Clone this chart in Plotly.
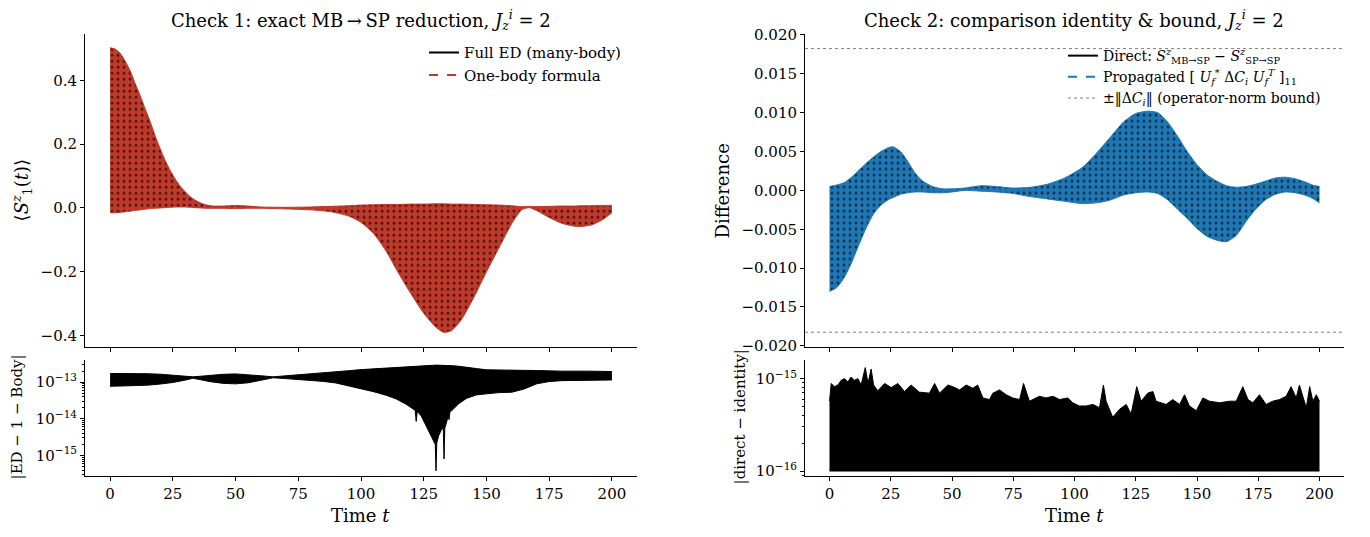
import plotly.graph_objects as go

# ---------------- data ----------------
# Check 1: <S_1^z(t)> envelope of the fast oscillation (upper / lower edge)
t_sz = [0, 2, 4, 6, 8, 10, 12, 14, 16, 18, 20, 22, 24, 26, 28, 30, 32, 34, 36, 38,
        41, 45, 50, 55, 60, 70, 80, 88, 95, 100, 105, 110, 115, 120, 125, 130, 133,
        136, 140, 145, 150, 155, 160, 164, 167, 170, 175, 180, 185, 188, 192, 196, 200]
sz_upper = [0.502, 0.498, 0.485, 0.460, 0.430, 0.390, 0.352, 0.310, 0.270, 0.225,
            0.185, 0.148, 0.117, 0.090, 0.068, 0.050, 0.035, 0.024, 0.016, 0.010,
            0.006, 0.006, 0.008, 0.006, 0.003, 0.002, 0.003, 0.005, 0.007, 0.009,
            0.010, 0.011, 0.011, 0.012, 0.012, 0.013, 0.013, 0.012, 0.012, 0.011,
            0.010, 0.009, 0.007, 0.004, 0.005, 0.004, 0.005, 0.006, 0.006, 0.007,
            0.007, 0.008, 0.008]
sz_lower = [-0.015, -0.015, -0.014, -0.012, -0.010, -0.008, -0.006, -0.004, -0.002, -0.001,
            0.000, 0.001, 0.002, 0.003, 0.003, 0.003, 0.002, 0.001, 0.000, -0.001,
            -0.001, -0.001, -0.002, -0.001, -0.001, -0.003, -0.006, -0.012, -0.025, -0.045,
            -0.080, -0.135, -0.205, -0.270, -0.330, -0.375, -0.390, -0.385, -0.350, -0.280,
            -0.200, -0.125, -0.050, -0.006, 0.001, -0.008, -0.030, -0.048, -0.057, -0.058,
            -0.053, -0.038, -0.015]

# Check 1 (lower panel): |ED - 1-Body| envelope
t_err = [0, 5, 10, 15, 20, 25, 30, 33, 36, 40, 45, 50, 55, 60, 65, 70, 75, 80, 85, 90,
         95, 100, 105, 110, 114, 118, 120, 121.6, 122.0, 122.4, 124, 126, 127.5, 129,
         129.6, 129.9, 130.2, 131, 132, 132.8, 133.1, 133.4, 134, 134.8, 135.1, 135.4,
         137, 139, 142, 146, 150, 155, 160, 165, 170, 175, 180, 190, 200]
err_upper = [1.73e-13, 1.74e-13, 1.73e-13, 1.70e-13, 1.65e-13, 1.57e-13, 1.46e-13, 1.40e-13,
             1.45e-13, 1.55e-13, 1.64e-13, 1.68e-13, 1.62e-13, 1.50e-13, 1.40e-13, 1.48e-13,
             1.58e-13, 1.68e-13, 1.78e-13, 1.90e-13, 2.05e-13, 2.20e-13, 2.32e-13, 2.45e-13,
             2.55e-13, 2.68e-13, 2.75e-13, 2.78e-13, 2.78e-13, 2.79e-13, 2.83e-13, 2.87e-13,
             2.90e-13, 2.92e-13, 2.92e-13, 2.92e-13, 2.92e-13, 2.92e-13, 2.92e-13, 2.91e-13,
             2.91e-13, 2.91e-13, 2.90e-13, 2.88e-13, 2.88e-13, 2.87e-13, 2.80e-13, 2.72e-13,
             2.60e-13, 2.35e-13, 2.18e-13, 2.12e-13, 2.10e-13, 2.10e-13, 2.08e-13, 2.02e-13,
             2.00e-13, 2.00e-13, 1.95e-13]
err_lower = [7.7e-14, 7.8e-14, 8.0e-14, 8.3e-14, 8.9e-14, 9.8e-14, 1.14e-13, 1.28e-13,
             1.17e-13, 1.03e-13, 9.3e-14, 9.0e-14, 9.6e-14, 1.10e-13, 1.32e-13, 1.25e-13,
             1.18e-13, 1.12e-13, 1.05e-13, 9.5e-14, 8.0e-14, 6.5e-14, 5.5e-14, 4.4e-14,
             3.5e-14, 2.5e-14, 2.0e-14, 1.7e-14, 8.5e-15, 1.6e-14, 1.2e-14, 6.5e-15,
             3.8e-15, 2.4e-15, 2.0e-15, 3.8e-16, 2.2e-15, 3.5e-15, 5.0e-15, 5.5e-15,
             8.0e-16, 5.5e-15, 7.5e-15, 1.2e-14, 9.5e-15, 1.5e-14, 1.9e-14, 2.6e-14,
             3.6e-14, 4.5e-14, 4.8e-14, 5.2e-14, 5.3e-14, 6.5e-14, 9.0e-14, 1.04e-13,
             1.10e-13, 1.15e-13, 1.15e-13]

# Check 2: difference envelope
t_diff = [0, 3, 6, 9, 12, 15, 18, 21, 24, 26, 29, 32, 35, 38, 42, 46, 50, 55, 62, 68,
          75, 82, 89, 96, 103, 109, 114, 120, 125, 130, 134, 138, 142, 146, 150, 154,
          158, 162, 166, 170, 174, 178, 182, 186, 190, 194, 197, 200]
diff_upper = [0.0005, 0.0007, 0.0010, 0.0017, 0.0026, 0.0035, 0.0043, 0.0050, 0.0055, 0.0056,
              0.0050, 0.0037, 0.0022, 0.0012, 0.0005, 0.0002, 0.0002, 0.0003, 0.0006, 0.0005,
              0.0003, 0.0004, 0.0008, 0.0016, 0.0029, 0.0048, 0.0066, 0.0088, 0.0099, 0.0102,
              0.0100, 0.0088, 0.0070, 0.0050, 0.0033, 0.0020, 0.0012, 0.0006, 0.0004, 0.0005,
              0.0008, 0.0012, 0.0016, 0.0017, 0.0015, 0.0011, 0.0007, 0.0005]
diff_lower = [-0.0130, -0.0125, -0.0112, -0.0093, -0.0070, -0.0048, -0.0030, -0.0019, -0.0012, -0.0009,
              -0.0005, -0.0003, -0.0002, -0.0002, -0.0003, -0.0003, -0.0002, 0.0000, -0.0001, -0.0002,
              -0.0004, -0.0008, -0.0011, -0.0014, -0.0017, -0.0016, -0.0013, -0.0006, -0.0003, -0.0002,
              -0.0004, -0.0012, -0.0024, -0.0036, -0.0049, -0.0059, -0.0064, -0.0066, -0.0058, -0.0040,
              -0.0024, -0.0012, -0.0005, -0.0002, -0.0003, -0.0006, -0.0010, -0.0016]
bound = 0.01825

# Check 2 (lower panel): |direct - identity| upper envelope above the 1e-16 floor
t_id = [0, 0.7, 2.0, 3.4, 4.8, 6.1, 7.5, 8.8, 10.2, 11.6, 12.9, 14.6, 15.7, 17.0, 18.0,
        19.7, 22.5, 25.2, 27.9, 30.6, 33.3, 35.4, 36.7, 40.8, 42.9, 44.9, 48.3, 50.3,
        53.1, 55.8, 58.5, 60.5, 62.6, 65.3, 66.7, 69.4, 72.1, 74.8, 77.6, 79.2, 81.6,
        85.7, 88.4, 91.2, 93.9, 97.3, 99.3, 102.0, 104.8, 107.5, 110.2, 111.8, 112.9,
        115.6, 118.4, 121.1, 123.1, 125.4, 127.2, 129.9, 132.0, 133.3, 137.4, 140.1,
        142.9, 144.9, 146.9, 149.7, 152.4, 155.1, 159.2, 163.3, 166.0, 168.7, 170.8,
        172.8, 175.5, 178.2, 180.9, 183.7, 186.4, 188.4, 190.5, 191.8, 194.6, 196.0,
        197.3, 198.7, 200.0]
id_upper = [5.7e-16, 8.87e-16, 8.19e-16, 8.53e-16, 9.62e-16, 1.0e-15, 9.23e-16, 1.04e-15,
            9.62e-16, 1.0e-15, 8.53e-16, 1.32e-15, 8.87e-16, 1.27e-15, 8.53e-16, 7.38e-16,
            8.87e-16, 8.0e-16, 8.87e-16, 7.26e-16, 8.53e-16, 7.55e-16, 7.14e-16, 6.97e-16,
            8.87e-16, 6.97e-16, 8.53e-16, 8.19e-16, 7.55e-16, 8.53e-16, 7.87e-16, 8.53e-16,
            6.18e-16, 5.94e-16, 6.97e-16, 7.55e-16, 6.70e-16, 6.18e-16, 5.94e-16, 8.87e-16,
            5.70e-16, 6.44e-16, 6.18e-16, 6.44e-16, 5.94e-16, 6.18e-16, 5.48e-16, 5.06e-16,
            5.06e-16, 5.26e-16, 4.85e-16, 8.53e-16, 5.70e-16, 3.82e-16, 4.67e-16, 5.26e-16,
            4.14e-16, 8.19e-16, 5.70e-16, 6.97e-16, 7.26e-16, 5.70e-16, 5.26e-16, 5.94e-16,
            5.26e-16, 6.70e-16, 5.06e-16, 4.49e-16, 6.18e-16, 5.70e-16, 5.48e-16, 5.70e-16,
            5.70e-16, 8.19e-16, 5.94e-16, 5.48e-16, 6.70e-16, 5.26e-16, 5.70e-16, 5.94e-16,
            6.44e-16, 8.19e-16, 6.18e-16, 8.53e-16, 4.85e-16, 8.19e-16, 5.70e-16, 6.70e-16,
            5.70e-16]
id_floor = 1e-16

x_ticks = [0, 25, 50, 75, 100, 125, 150, 175, 200]
sz_ticks = [-0.4, -0.2, 0.0, 0.2, 0.4]
sz_ticktext = ["\u22120.4", "\u22120.2", "0.0", "0.2", "0.4"]
diff_ticks = [-0.02, -0.015, -0.01, -0.005, 0.0, 0.005, 0.01, 0.015, 0.02]
diff_ticktext = ["\u22120.020", "\u22120.015", "\u22120.010", "\u22120.005", "0.000",
                 "0.005", "0.010", "0.015", "0.020"]
err_ticks = [1e-15, 1e-14, 1e-13]
err_ticktext = ["10<sup>\u221215</sup>", "10<sup>\u221214</sup>", "10<sup>\u221213</sup>"]
id_ticks = [1e-16, 1e-15]
id_ticktext = ["10<sup>\u221216</sup>", "10<sup>\u221215</sup>"]

# ---------------- styling ----------------
W, H = 1370, 537
FONT = "DejaVu Serif"
RED = "#c0392b"
BLUE = "#1f77b4"


def fx(p):
    return p / W


def fy(p):
    return 1 - p / H


fig = go.Figure()

# Left top: band
fig.add_trace(go.Scatter(x=t_sz, y=sz_upper, mode="lines", line=dict(color=RED, width=1, shape="spline", smoothing=0.6),
                         xaxis="x", yaxis="y", showlegend=False, hoverinfo="skip"))
fig.add_trace(go.Scatter(x=t_sz, y=sz_lower, mode="lines", line=dict(color=RED, width=1, shape="spline", smoothing=0.6),
                         fill="tonexty", fillcolor=RED,
                         fillpattern=dict(shape=".", bgcolor=RED, fgcolor="black", fgopacity=0.6, size=6, solidity=0.2),
                         xaxis="x", yaxis="y", showlegend=False, hoverinfo="skip"))
fig.add_trace(go.Scatter(x=[None], y=[None], mode="lines", line=dict(color="black", width=2),
                         name="Full ED (many-body)", xaxis="x", yaxis="y", legend="legend", legendgroup="a"))
fig.add_trace(go.Scatter(x=[None], y=[None], mode="lines", line=dict(color=RED, width=2, dash="dash"),
                         name="One-body formula", xaxis="x", yaxis="y", legend="legend", legendgroup="b"))

# Left bottom
fig.add_trace(go.Scatter(x=t_err, y=err_upper, mode="lines", line=dict(color="black", width=1),
                         xaxis="x3", yaxis="y3", showlegend=False, hoverinfo="skip"))
fig.add_trace(go.Scatter(x=t_err, y=err_lower, mode="lines", line=dict(color="black", width=1),
                         fill="tonexty", fillcolor="black",
                         xaxis="x3", yaxis="y3", showlegend=False, hoverinfo="skip"))

# Right top
fig.add_trace(go.Scatter(x=t_diff, y=diff_upper, mode="lines", line=dict(color=BLUE, width=1, shape="spline", smoothing=0.6),
                         xaxis="x2", yaxis="y2", showlegend=False, hoverinfo="skip"))
fig.add_trace(go.Scatter(x=t_diff, y=diff_lower, mode="lines", line=dict(color=BLUE, width=1, shape="spline", smoothing=0.6),
                         fill="tonexty", fillcolor=BLUE,
                         fillpattern=dict(shape=".", bgcolor=BLUE, fgcolor="black", fgopacity=0.6, size=6, solidity=0.18),
                         xaxis="x2", yaxis="y2", showlegend=False, hoverinfo="skip"))
fig.add_trace(go.Scatter(x=[None], y=[None], mode="lines", line=dict(color="black", width=2),
                         name="Direct: <i>S</i><sup><i>z</i></sup><sub>MB\u2192SP</sub> \u2212 <i>S</i><sup><i>z</i></sup><sub>SP\u2192SP</sub>",
                         xaxis="x2", yaxis="y2", legend="legend2", legendgroup="c"))
fig.add_trace(go.Scatter(x=[None], y=[None], mode="lines", line=dict(color=BLUE, width=2, dash="dash"),
                         name="Propagated [ <i>U</i><sub><i>f</i></sub><sup>*</sup> \u0394<i>C</i><sub><i>i</i></sub> <i>U</i><sub><i>f</i></sub><sup><i>T</i></sup> ]<sub>11</sub>",
                         xaxis="x2", yaxis="y2", legend="legend2", legendgroup="d"))
fig.add_trace(go.Scatter(x=[None], y=[None], mode="lines", line=dict(color="gray", width=1, dash="dot"),
                         name="\u00b1\u2016\u0394<i>C</i><sub><i>i</i></sub>\u2016 (operator-norm bound)",
                         xaxis="x2", yaxis="y2", legend="legend2", legendgroup="e"))

# Right bottom
fig.add_trace(go.Scatter(x=[t_id[0], t_id[-1]], y=[id_floor, id_floor], mode="lines",
                         line=dict(color="black", width=1),
                         xaxis="x4", yaxis="y4", showlegend=False, hoverinfo="skip"))
fig.add_trace(go.Scatter(x=t_id, y=id_upper, mode="lines", line=dict(color="black", width=1),
                         fill="tonexty", fillcolor="black",
                         xaxis="x4", yaxis="y4", showlegend=False, hoverinfo="skip"))

for sgn in (1, -1):
    fig.add_shape(type="line", xref="x2 domain", x0=0, x1=1, yref="y2", y0=sgn * bound, y1=sgn * bound,
                  line=dict(color="#7f7f7f", width=1, dash="dot"))

tickfont = dict(family=FONT, size=15, color="black")
common_x = dict(range=[-10, 210], tickvals=x_ticks, ticks="outside", ticklen=4, tickwidth=1, tickcolor="black",
                showline=True, linecolor="black", linewidth=1, showgrid=False, zeroline=False, tickfont=tickfont)
common_y = dict(ticks="outside", ticklen=4, tickwidth=1, tickcolor="black",
                showline=True, linecolor="black", linewidth=1, showgrid=False, zeroline=False, tickfont=tickfont)

LX = [fx(85), fx(637)]
RX = [fx(805), fx(1344)]
TY = [fy(349), fy(27)]
BY = [fy(482), fy(363)]


def minor_vals(d0, d1):
    return [k * 10.0 ** d for d in range(d0, d1) for k in range(2, 10)]


fig.update_layout(
    width=W, height=H,
    margin=dict(l=0, r=0, t=0, b=0),
    paper_bgcolor="white", plot_bgcolor="white",
    font=dict(family=FONT, size=15, color="black"),
    xaxis=dict(domain=LX, anchor="y", showticklabels=False, **common_x),
    yaxis=dict(domain=TY, anchor="x", range=[-0.4345, 0.5445], tickvals=sz_ticks, ticktext=sz_ticktext, **common_y),
    xaxis3=dict(domain=LX, anchor="y3", **common_x),
    yaxis3=dict(domain=BY, anchor="x3", type="log", range=[-15.55, -12.40], tickvals=err_ticks, ticktext=err_ticktext,
                minor=dict(ticks="outside", ticklen=2, tickcolor="black", tickvals=minor_vals(-16, -12)), **common_y),
    xaxis2=dict(domain=RX, anchor="y2", showticklabels=False, **common_x),
    yaxis2=dict(domain=TY, anchor="x2", range=[-0.0201, 0.0201], tickvals=diff_ticks, ticktext=diff_ticktext, **common_y),
    xaxis4=dict(domain=RX, anchor="y4", **common_x),
    yaxis4=dict(domain=BY, anchor="x4", type="log", range=[-16.05, -14.80], tickvals=id_ticks, ticktext=id_ticktext,
                minor=dict(ticks="outside", ticklen=2, tickcolor="black", tickvals=minor_vals(-17, -14)), **common_y),
    legend=dict(x=fx(424), y=fy(29), xanchor="left", yanchor="top", bgcolor="rgba(0,0,0,0)", traceorder="normal",
                tracegroupgap=2, font=dict(family=FONT, size=15, color="black"), itemwidth=30),
    legend2=dict(x=fx(1063), y=fy(33), xanchor="left", yanchor="top", bgcolor="rgba(0,0,0,0)", traceorder="normal",
                 tracegroupgap=8, font=dict(family=FONT, size=14, color="black"), itemwidth=30),
)

annos = [
    dict(text="Check 1: exact MB\u2009\u2192\u2009SP reduction, <i>J</i><sub><i>z</i></sub><sup><i>i</i></sup> = 2",
         x=fx(361), y=fy(12), size=18, angle=0),
    dict(text="Check 2: comparison identity &amp; bound, <i>J</i><sub><i>z</i></sub><sup><i>i</i></sup> = 2",
         x=fx(1074), y=fy(12), size=18, angle=0),
    dict(text="\u27e8<i>S</i><sup><i>z</i></sup><sub>1</sub>(<i>t</i>)\u27e9", x=fx(22), y=fy(188), size=18, angle=-90),
    dict(text="|ED \u2212 1 \u2212 Body|", x=fx(17), y=fy(422), size=15, angle=-90),
    dict(text="Difference", x=fx(722), y=fy(188), size=18, angle=-90),
    dict(text="|direct \u2212 identity|", x=fx(740), y=fy(422), size=15, angle=-90),
    dict(text="Time <i>t</i>", x=fx(361), y=fy(523), size=18, angle=0),
    dict(text="Time <i>t</i>", x=fx(1074), y=fy(523), size=18, angle=0),
]
for a in annos:
    fig.add_annotation(text=a["text"], x=a["x"], y=a["y"], xref="paper", yref="paper",
                       xanchor="center", yanchor="middle", showarrow=False, textangle=a["angle"],
                       font=dict(family=FONT, size=a["size"], color="black"))

fig.write_html("out.html", config={"displayModeBar": False},
               post_script="document.body.style.margin='0';document.body.style.padding='0';")
